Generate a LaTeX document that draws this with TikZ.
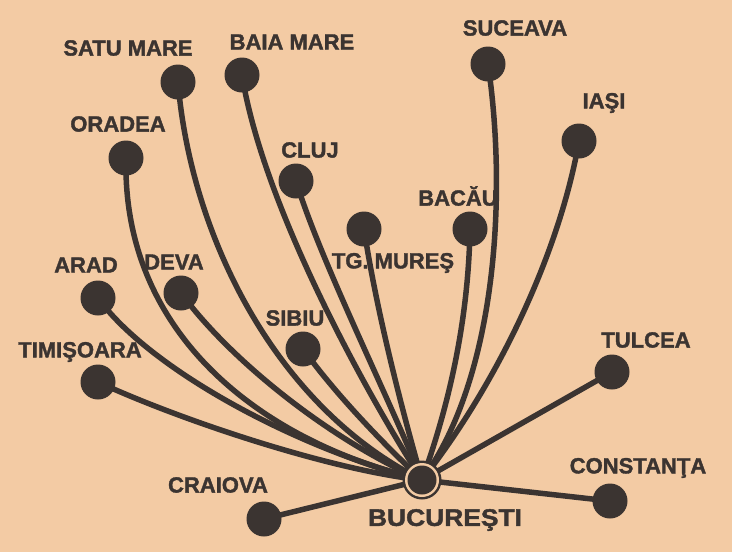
\documentclass[tikz,border=0pt]{standalone}
\usepackage{fontspec}
\setmainfont{Liberation Sans}
\newfontfamily\heavy{Liberation Sans Bold}[FakeBold=1.6]
\definecolor{paper}{HTML}{F3CBA4}
\definecolor{ink}{HTML}{3B3431}
\begin{document}
\begin{tikzpicture}[x=1pt,y=-1pt,
  city/.style={circle,fill=ink,minimum size=35pt,inner sep=0pt},
  lbl/.style={text=ink,font=\fontsize{22}{22}\selectfont\heavy,inner sep=0pt},
  link/.style={draw=ink,line width=5.5pt,line cap=round}]
\fill[paper] (0,0) rectangle (732,552);
\useasboundingbox (0,0) rectangle (732,552);
% hub
\coordinate (buc) at (422,480);
% cities
\coordinate (satu) at (178,82);
\coordinate (baia) at (242,75);
\coordinate (orad) at (126,158);
\coordinate (cluj) at (296,181);
\coordinate (suce) at (488,64);
\coordinate (iasi) at (579,141);
\coordinate (baca) at (470,229);
\coordinate (mure) at (364,229);
\coordinate (arad) at (98,298);
\coordinate (deva) at (181,293);
\coordinate (sibi) at (303,349);
\coordinate (timi) at (98,382);
\coordinate (tulc) at (612,372);
\coordinate (cons) at (610,501);
\coordinate (crai) at (264,519);
% connectors
\draw[link] (timi) .. controls (180,420) and (330,470) .. (buc);
\draw[link] (arad) .. controls (150,370) and (300,450) .. (buc);
\draw[link] (deva) .. controls (230,360) and (330,440) .. (buc);
\draw[link] (orad) .. controls (122,330) and (255,440) .. (buc);
\draw[link] (satu) .. controls (190,230) and (272,405) .. (buc);
\draw[link] (baia) .. controls (262,200) and (358,380) .. (buc);
\draw[link] (cluj) .. controls (320,260) and (390,400) .. (buc);
\draw[link] (sibi) .. controls (340,400) and (390,450) .. (buc);
\draw[link] (mure) .. controls (378,320) and (405,420) .. (buc);
\draw[link] (baca) .. controls (468,340) and (440,430) .. (buc);
\draw[link] (suce) .. controls (508,200) and (495,380) .. (buc);
\draw[link] (iasi) .. controls (560,250) and (500,380) .. (buc);
\draw[link] (tulc) -- (buc);
\draw[link] (cons) -- (buc);
\draw[link] (crai) -- (buc);
% dots
\foreach \c in {satu,baia,orad,cluj,suce,iasi,baca,mure,arad,deva,sibi,timi,tulc,cons,crai}
  \node[city] (n\c) at (\c) {};
\node[circle,fill=ink,minimum size=39pt,inner sep=0pt] (nbuc) at (buc) {};
\fill[paper] (nbuc.center) circle (17pt);
\fill[ink] (nbuc.center) circle (14.5pt);
% labels
\node[lbl] (lsatu) at (128,48) {SATU MARE};
\node[lbl] (lbaia) at (292,42) {BAIA MARE};
\node[lbl] (lorad) at (118,124) {ORADEA};
\node[lbl] (lcluj) at (310,150) {CLUJ};
\node[lbl] (lsuce) at (515,28) {SUCEAVA};
\node[lbl] (liasi) at (604,103) {IAŞI};
\node[lbl] (lbaca) at (458,196) {BACĂU};
\node[lbl] (lmure) at (393,263) {TG. MUREŞ};
\node[lbl] (larad) at (86,265) {ARAD};
\node[lbl] (ldeva) at (174,262) {DEVA};
\node[lbl] (lsibi) at (295,318) {SIBIU};
\node[lbl] (ltimi) at (80,352) {TIMIŞOARA};
\node[lbl] (ltulc) at (646,340) {TULCEA};
\node[lbl] (lcons) at (638,468) {CONSTANŢA};
\node[lbl] (lcrai) at (218,485) {CRAIOVA};
\node[lbl,xscale=1.1,font=\fontsize{24}{24}\selectfont\heavy] (lbuc) at (445,520) {BUCUREŞTI};
\end{tikzpicture}
\end{document}
